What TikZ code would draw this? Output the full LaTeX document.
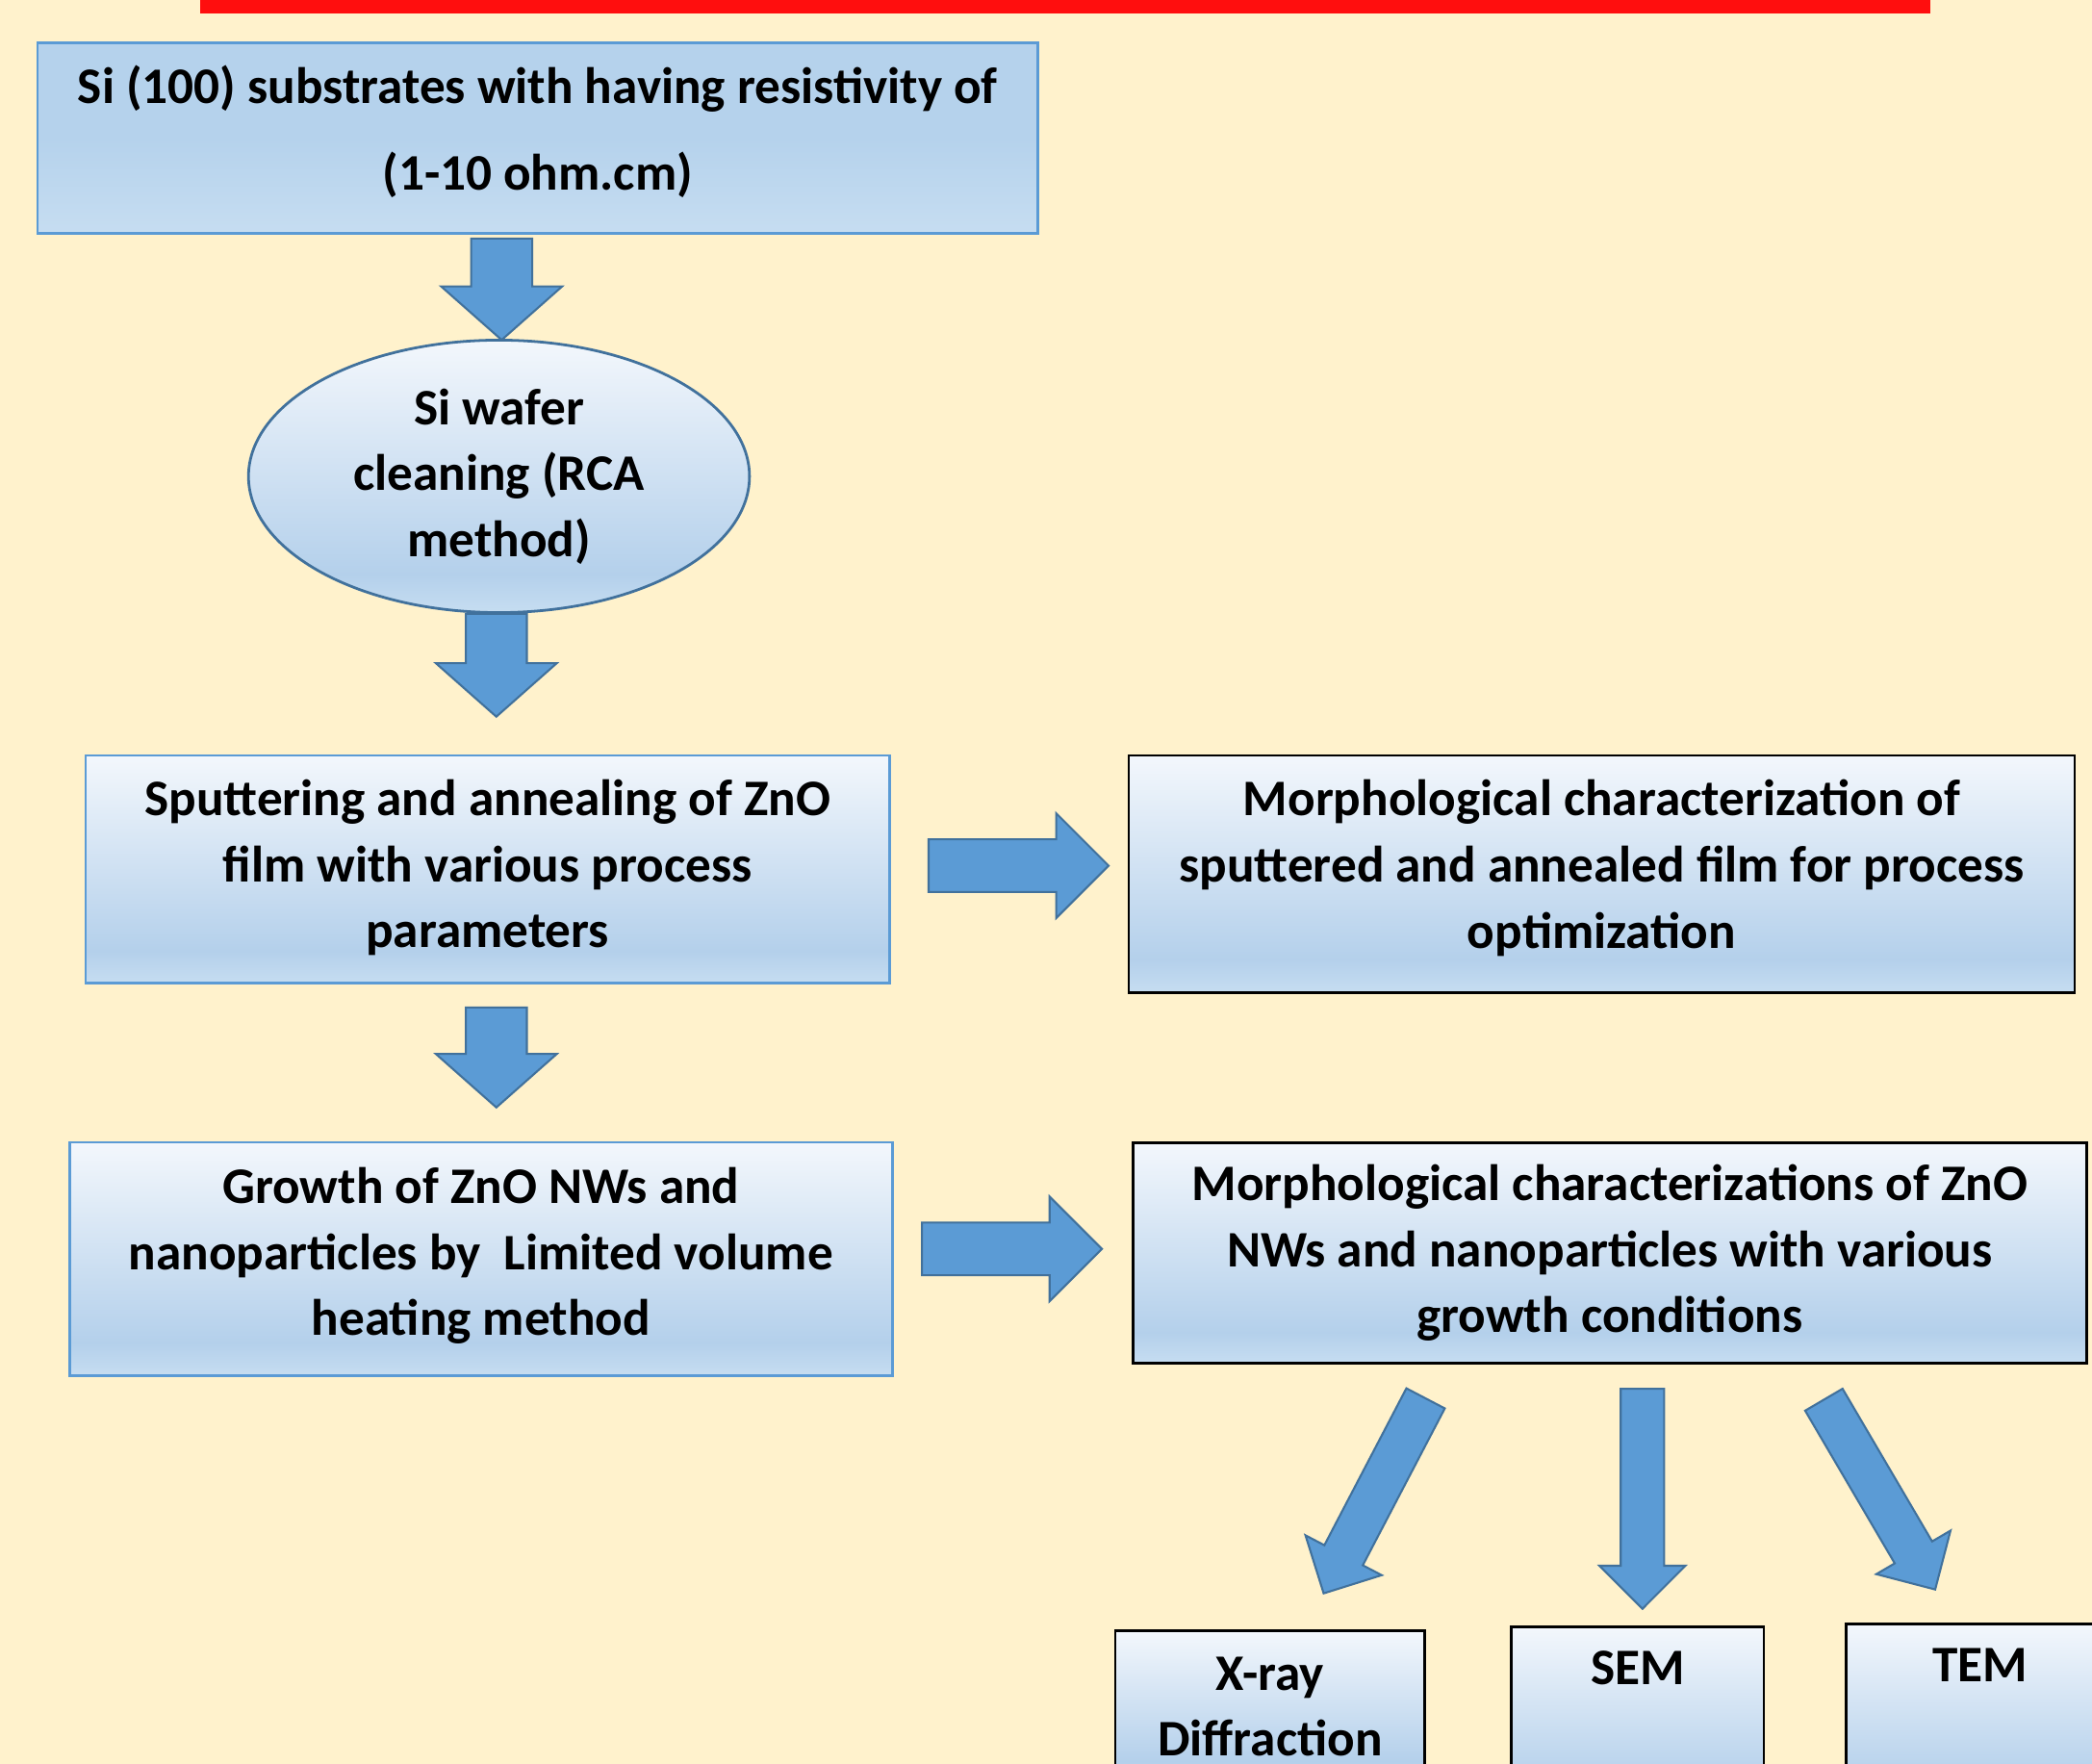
\documentclass[tikz,border=0pt]{standalone}
\usepackage{fontspec}
\setmainfont{Carlito}
\usetikzlibrary{shapes.geometric,shapes.arrows}

\definecolor{bg}{HTML}{FFF2CC}
\definecolor{barred}{HTML}{FF0E0E}
\definecolor{edgeblue}{HTML}{5B9BD5}
\definecolor{darkblue}{HTML}{41719C}
\definecolor{flatblue}{HTML}{B5D2EC}
\definecolor{topblue}{HTML}{F3F7FC}
\definecolor{midblue}{HTML}{B4D0EB}
\definecolor{lowblue}{HTML}{C6DDF1}
\pgfdeclareverticalshading{boxshade}{100bp}{color(0bp)=(lowblue); color(25bp)=(lowblue); color(32bp)=(midblue); color(75bp)=(topblue); color(100bp)=(topblue)}

\begin{document}
\begin{tikzpicture}[x=0.014cm, y=-0.014cm, font=\fontsize{15.3}{19.7}\selectfont\bfseries, b/.style={draw=edgeblue, line width=0.8pt, shading=boxshade, align=center, inner sep=0pt}, k/.style={b, draw=black}, ar/.style={single arrow, anchor=tail, draw=darkblue, fill=edgeblue, line width=0.6pt, inner sep=0pt, outer sep=0pt}, vd/.style={ar, rotate=-90, inner ysep=0.31cm, single arrow head extend=0.315cm, single arrow tip angle=97}, hr/.style={ar, inner ysep=0.266cm, single arrow head extend=0.273cm, minimum height=1.89cm, single arrow tip angle=90}, dg/.style={ar, inner ysep=0.217cm, single arrow head extend=0.224cm, minimum height=2.31cm, single arrow tip angle=90}]
		\useasboundingbox (0,0) rectangle (1568,1322);
		\clip (0,0) rectangle (1568,1322);
		\fill[bg] (0,0) rectangle (1568,1322);
		\fill[barred] (150,-5) rectangle (1447,10);

		\node[draw=edgeblue, line width=0.8pt, top color=flatblue, bottom color=lowblue, middle color=flatblue, align=center, inner sep=0pt, minimum width=10.5cm, minimum height=2cm, text depth=0.22cm] (sub) at (403,103.5) {Si (100) substrates with having resistivity of\\[6pt](1-10 ohm.cm)};
		\node[ellipse, b, draw=darkblue, minimum width=5.26cm, minimum height=2.86cm] (rca) at (374,357) {Si wafer\\cleaning (RCA\\method)};
		\node[b, minimum width=8.44cm, minimum height=2.39cm, text depth=0.12cm] (sput) at (365.5,651.5) {Sputtering and annealing of ZnO\\film with various process\\parameters};
		\node[k, minimum width=9.93cm, minimum height=2.49cm, text depth=0.21cm] (film) at (1200.5,655) {Morphological characterization of\\sputtered and annealed film for process\\optimization};
		\node[b, minimum width=8.64cm, minimum height=2.45cm, text depth=0.15cm] (grow) at (360.5,943.5) {Growth of ZnO NWs and\\nanoparticles by \ Limited volume\\heating method};
		\node[k, minimum width=10.01cm, minimum height=2.32cm] (nw) at (1206.5,939) {Morphological characterizations of ZnO\\NWs and nanoparticles with various\\growth conditions};
		\node[k, minimum width=3.25cm, minimum height=1.6cm] (xrd) at (952,1279) {X-ray\\Diffraction};
		\node[k, anchor=north, minimum width=2.65cm, text height=0.61cm, text depth=1.3cm] (sem) at (1227.5,1218) {SEM};
		\node[k, anchor=north, minimum width=2.81cm, text height=0.61cm, text depth=1.3cm] (tem) at (1484,1216) {TEM};

		\node[vd, minimum height=1.064cm] (a1) at (376,178.8) {};
		\node[vd, minimum height=1.08cm] (a2) at (372,460) {};
		\node[vd, minimum height=1.05cm] (a3) at (372,755) {};
		\node[hr] (r1) at (696,648.8) {};
		\node[hr] (r2) at (691,936) {};
		\node[dg, rotate=242.4] (d1) at (1068.5,1048) {};
		\node[dg, rotate=-90] (d2) at (1231,1040.8) {};
		\node[dg, rotate=-59.6] (d3) at (1367,1049) {};
	\end{tikzpicture}
\end{document}
